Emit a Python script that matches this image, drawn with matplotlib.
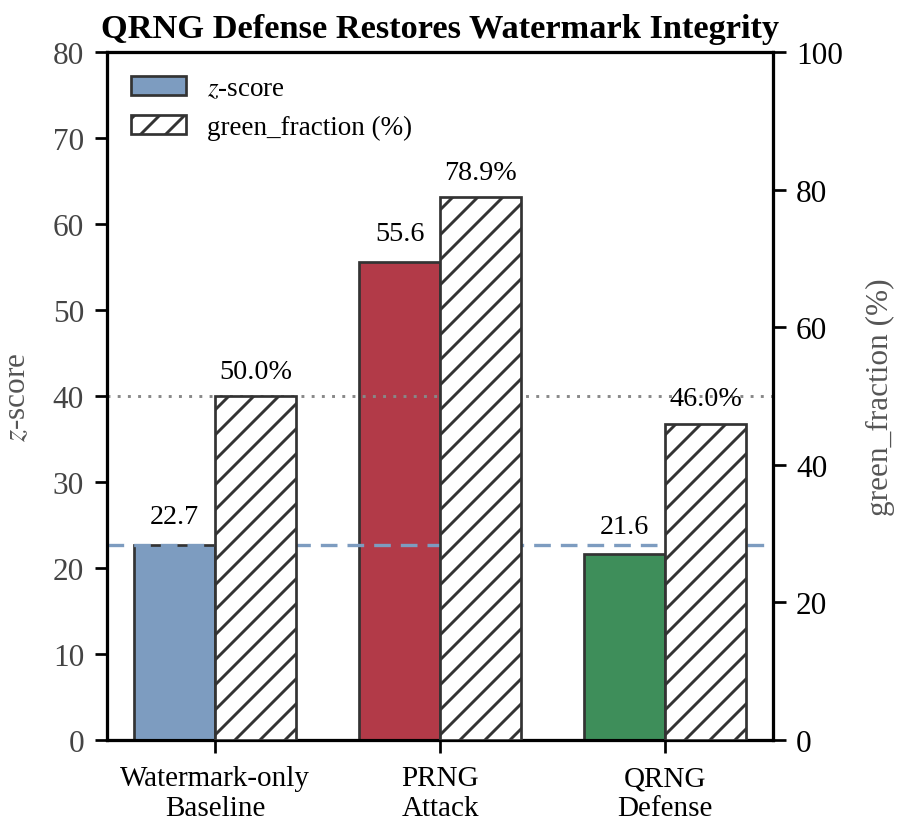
import numpy as np
import matplotlib.pyplot as plt
from matplotlib.patches import Patch

plt.rcParams['font.family'] = ['Liberation Serif', 'DejaVu Serif']
plt.rcParams['mathtext.fontset'] = 'stix'
plt.rcParams['hatch.color'] = "#333333"
plt.rcParams['hatch.linewidth'] = 1.4

# Data
groups = ["Watermark-only\nBaseline", "PRNG\nAttack", "QRNG\nDefense"]
z_scores = [22.7, 55.6, 21.6]
green_frac = [50.0, 78.9, 46.0]
bar_colors = ["#7d9cc0", "#b23a48", "#3e8e5a"]
baseline_z = 22.7
chance_frac = 50.0

x = np.arange(len(groups))
w = 0.36

fig, ax = plt.subplots(figsize=(899/150, 828/150), dpi=150)
fig.subplots_adjust(left=0.119, right=0.860, bottom=0.105, top=0.936)
ax2 = ax.twinx()

ax.bar(x - w/2, z_scores, w, color=bar_colors, edgecolor="#333333", linewidth=1.3, zorder=3)
ax2.bar(x + w/2, green_frac, w, color="white", edgecolor="#333333", hatch="//", linewidth=1.3, zorder=3)

ax.axhline(baseline_z, color="#7d9cc0", linestyle=(0, (5, 3)), linewidth=1.6, zorder=4)
ax2.axhline(chance_frac, color="#888888", linestyle=(0, (1, 2.5)), linewidth=1.4, zorder=2)

for xi, v in zip(x, z_scores):
    ax.text(xi - w/2, v + 1.8, f"{v:.1f}", ha="center", va="bottom", fontsize=13.5)
for xi, v in zip(x, green_frac):
    ax2.text(xi + w/2, v + 1.8, f"{v:.1f}%", ha="center", va="bottom", fontsize=13.5)

ax.set_ylim(0, 80)
ax2.set_ylim(0, 100)
ax.set_xlim(-0.48, 2.48)
ax.set_xticks(x)
ax.set_xticklabels(groups, fontsize=14)
ax.set_ylabel("$z$-score", fontsize=15, color="#555555", labelpad=10)
ax2.set_ylabel("green_fraction (%)", fontsize=15, color="#555555", labelpad=11)
ax.tick_params(axis="y", labelsize=15, labelcolor="#444444", length=6, width=1.3, pad=5)
ax2.tick_params(axis="y", labelsize=15, length=6, width=1.3, pad=5)
ax.tick_params(axis="x", length=6, width=1.3, pad=6)
for a in (ax, ax2):
    for s in a.spines.values():
        s.set_linewidth(1.5)

ax.set_title("QRNG Defense Restores Watermark Integrity", fontsize=16.5, fontweight="bold", pad=7)

handles = [Patch(facecolor="#7d9cc0", edgecolor="#333333", linewidth=1.3, label="$z$-score"),
           Patch(facecolor="white", edgecolor="#333333", hatch="//", linewidth=1.3, label="green_fraction (%)")]
ax.legend(handles=handles, loc="upper left", frameon=False, fontsize=13)

plt.savefig("out.png", dpi=150)
